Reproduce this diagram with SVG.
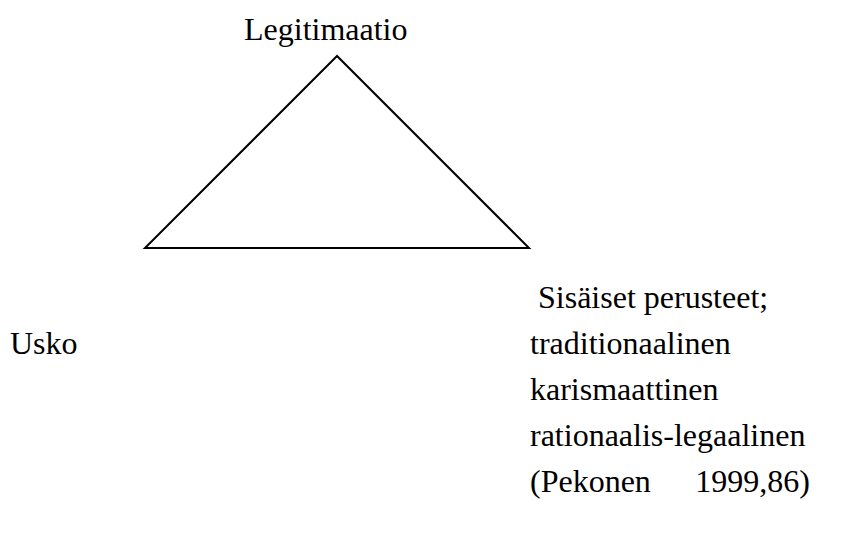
<svg xmlns="http://www.w3.org/2000/svg" width="841" height="537" viewBox="0 0 841 537">
<style>
text { font-family: "Liberation Serif", "Times New Roman", serif; font-size: 32px; fill: #000; }
.tri { fill: none; stroke: #000; stroke-width: 2; stroke-linejoin: miter; }
</style>
<rect width="841" height="537" fill="#fff"/>
<g id="triangle">
<polygon class="tri" points="337,56 145,248 529,248"/>
</g>
<g id="legitimaatio"><text x="244" y="40">Legitimaatio</text></g>
<g id="usko"><text x="10" y="354">Usko</text></g>
<g id="perusteet">
<text x="538" y="308">Sisäiset perusteet;</text>
<text x="530" y="354">traditionaalinen</text>
<text x="530" y="400">karismaattinen</text>
<text x="530" y="446">rationaalis-legaalinen</text>
<text x="530" y="492">(Pekonen</text>
<text x="810" y="492" text-anchor="end">1999,86)</text>
</g>
<g id="connectors"></g>
</svg>
